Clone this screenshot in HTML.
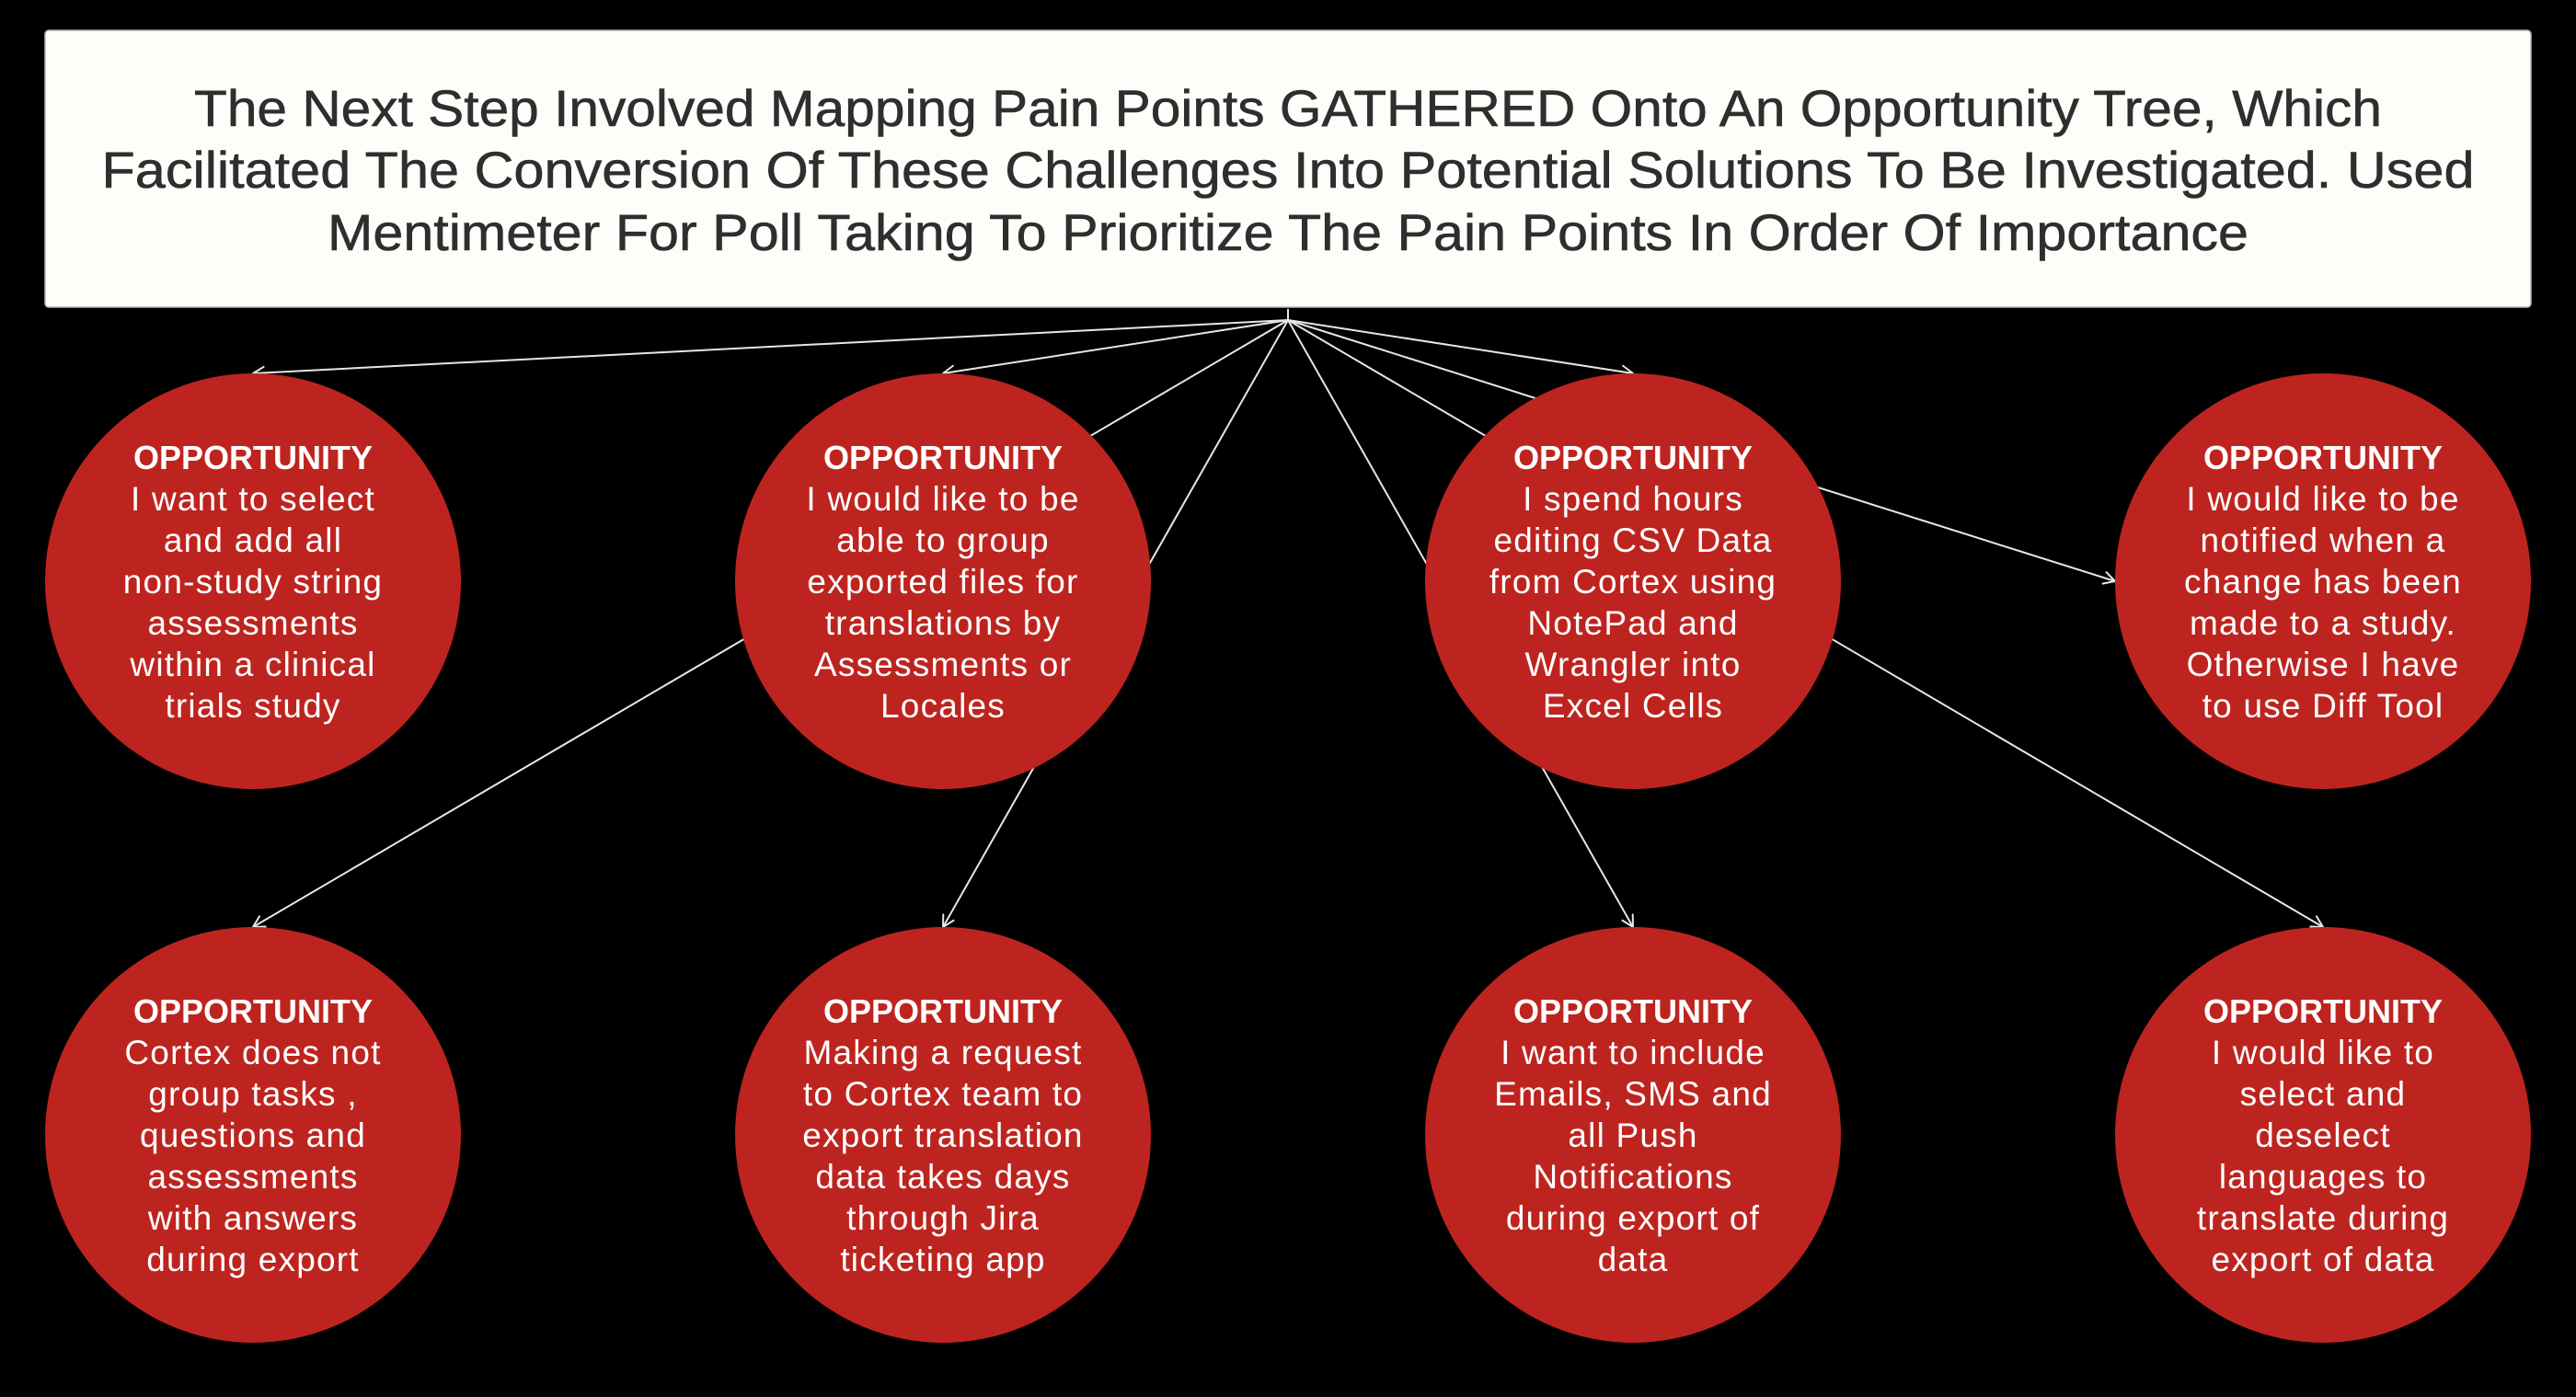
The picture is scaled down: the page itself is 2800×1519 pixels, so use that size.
<!DOCTYPE html>
<html>
<head>
<meta charset="utf-8">
<style>
  html, body { margin: 0; padding: 0; background: #000; }
  body { width: 2800px; height: 1519px; overflow: hidden; }
  svg { display: block; }
  .t { font-family: "Liberation Sans", Arial, sans-serif; }
  .h { font-size: 36px; font-weight: bold; fill: #fff; }
  .b { font-size: 37px; fill: #fff; letter-spacing: 1.2px; }
</style>
</head>
<body>
<svg width="2800" height="1519" viewBox="0 0 2800 1519" xmlns="http://www.w3.org/2000/svg">
  <defs>
    <marker id="ar" markerUnits="userSpaceOnUse" viewBox="-16 -10 20 20" markerWidth="20" markerHeight="20" refX="0" refY="0" orient="auto" overflow="visible">
      <path d="M-12,-6.5 L0,0 L-12,6.5" fill="none" stroke="#e6e6e6" stroke-width="2" stroke-linecap="round" stroke-linejoin="round"/>
    </marker>
  </defs>

  <rect x="0" y="0" width="2800" height="1519" fill="#000"/>

  <!-- Title box -->
  <rect x="49" y="33" width="2702" height="301" rx="4" fill="#FDFDFA" stroke="#b5b5b5" stroke-width="1.5"/>
  <g class="t" font-size="56" fill="#2e2e2e" stroke="#2e2e2e" stroke-width="0.6" text-anchor="middle">
    <text x="1400" y="137" textLength="2378" lengthAdjust="spacingAndGlyphs">The Next Step Involved Mapping Pain Points GATHERED Onto An Opportunity Tree, Which</text>
    <text x="1400" y="204" textLength="2579" lengthAdjust="spacingAndGlyphs">Facilitated The Conversion Of These Challenges Into Potential Solutions To Be Investigated. Used</text>
    <text x="1400" y="272" textLength="2088" lengthAdjust="spacingAndGlyphs">Mentimeter For Poll Taking To Prioritize The Pain Points In Order Of Importance</text>
  </g>

  <!-- Connectors -->
  <g stroke="#e6e6e6" stroke-width="2" fill="none">
    <line x1="1400" y1="336" x2="1400" y2="348"/>
    <line x1="1400" y1="348" x2="275" y2="1008" marker-end="url(#ar)"/>
    <line x1="1400" y1="348" x2="1025" y2="1008" marker-end="url(#ar)"/>
    <line x1="1400" y1="348" x2="1775" y2="1008" marker-end="url(#ar)"/>
    <line x1="1400" y1="348" x2="2525" y2="1008" marker-end="url(#ar)"/>
    <line x1="1400" y1="348" x2="275" y2="406" marker-end="url(#ar)"/>
    <line x1="1400" y1="348" x2="1025" y2="406" marker-end="url(#ar)"/>
    <line x1="1400" y1="348" x2="1775" y2="406" marker-end="url(#ar)"/>
    <line x1="1400" y1="348" x2="2299" y2="632" marker-end="url(#ar)"/>
  </g>

  <!-- Circles -->
  <g fill="#BE241F">
    <circle cx="275" cy="632" r="226"/>
    <circle cx="1025" cy="632" r="226"/>
    <circle cx="1775" cy="632" r="226"/>
    <circle cx="2525" cy="632" r="226"/>
    <circle cx="275" cy="1234" r="226"/>
    <circle cx="1025" cy="1234" r="226"/>
    <circle cx="1775" cy="1234" r="226"/>
    <circle cx="2525" cy="1234" r="226"/>
  </g>

  <!-- Circle texts, top row -->
  <g class="t" text-anchor="middle">
    <text class="h" x="275" y="510">OPPORTUNITY</text>
    <text class="b" x="275" y="555">I want to select</text>
    <text class="b" x="275" y="600">and add all</text>
    <text class="b" x="275" y="645">non-study string</text>
    <text class="b" x="275" y="690">assessments</text>
    <text class="b" x="275" y="735">within a clinical</text>
    <text class="b" x="275" y="780">trials study</text>

    <text class="h" x="1025" y="510">OPPORTUNITY</text>
    <text class="b" x="1025" y="555">I would like to be</text>
    <text class="b" x="1025" y="600">able to group</text>
    <text class="b" x="1025" y="645">exported files for</text>
    <text class="b" x="1025" y="690">translations by</text>
    <text class="b" x="1025" y="735">Assessments or</text>
    <text class="b" x="1025" y="780">Locales</text>

    <text class="h" x="1775" y="510">OPPORTUNITY</text>
    <text class="b" x="1775" y="555">I spend hours</text>
    <text class="b" x="1775" y="600">editing CSV Data</text>
    <text class="b" x="1775" y="645">from Cortex using</text>
    <text class="b" x="1775" y="690">NotePad and</text>
    <text class="b" x="1775" y="735">Wrangler into</text>
    <text class="b" x="1775" y="780">Excel Cells</text>

    <text class="h" x="2525" y="510">OPPORTUNITY</text>
    <text class="b" x="2525" y="555">I would like to be</text>
    <text class="b" x="2525" y="600">notified when a</text>
    <text class="b" x="2525" y="645">change has been</text>
    <text class="b" x="2525" y="690">made to a study.</text>
    <text class="b" x="2525" y="735">Otherwise I have</text>
    <text class="b" x="2525" y="780">to use Diff Tool</text>
  </g>

  <!-- Circle texts, bottom row -->
  <g class="t" text-anchor="middle">
    <text class="h" x="275" y="1112">OPPORTUNITY</text>
    <text class="b" x="275" y="1157">Cortex does not</text>
    <text class="b" x="275" y="1202">group tasks ,</text>
    <text class="b" x="275" y="1247">questions and</text>
    <text class="b" x="275" y="1292">assessments</text>
    <text class="b" x="275" y="1337">with answers</text>
    <text class="b" x="275" y="1382">during export</text>

    <text class="h" x="1025" y="1112">OPPORTUNITY</text>
    <text class="b" x="1025" y="1157">Making a request</text>
    <text class="b" x="1025" y="1202">to Cortex team to</text>
    <text class="b" x="1025" y="1247">export translation</text>
    <text class="b" x="1025" y="1292">data takes days</text>
    <text class="b" x="1025" y="1337">through Jira</text>
    <text class="b" x="1025" y="1382">ticketing app</text>

    <text class="h" x="1775" y="1112">OPPORTUNITY</text>
    <text class="b" x="1775" y="1157">I want to include</text>
    <text class="b" x="1775" y="1202">Emails, SMS and</text>
    <text class="b" x="1775" y="1247">all Push</text>
    <text class="b" x="1775" y="1292">Notifications</text>
    <text class="b" x="1775" y="1337">during export of</text>
    <text class="b" x="1775" y="1382">data</text>

    <text class="h" x="2525" y="1112">OPPORTUNITY</text>
    <text class="b" x="2525" y="1157">I would like to</text>
    <text class="b" x="2525" y="1202">select and</text>
    <text class="b" x="2525" y="1247">deselect</text>
    <text class="b" x="2525" y="1292">languages to</text>
    <text class="b" x="2525" y="1337">translate during</text>
    <text class="b" x="2525" y="1382">export of data</text>
  </g>
</svg>
</body>
</html>
